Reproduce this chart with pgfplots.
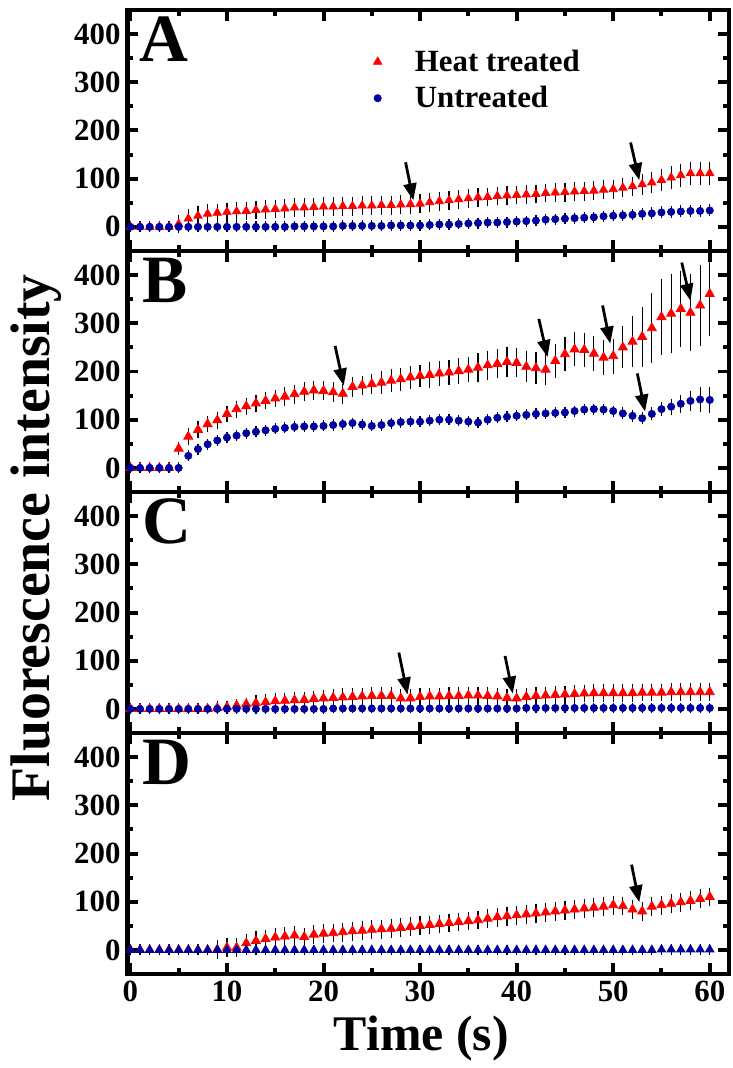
\documentclass[border=0pt]{standalone}
\usepackage{fontspec}
\setmainfont{Liberation Serif}
\usepackage{pgfplots}
\pgfplotsset{compat=1.18}
\usepackage{pgfplotstable}
\usetikzlibrary{arrows.meta}
\definecolor{navyb}{RGB}{0,0,160}

% t = time (s), h = heat treated, he = its error, u = untreated, ue = its error
\pgfplotstableread{
t h he u ue
0 0 4 0 4
1 0 4 0 4
2 0 4 0 4
3 0 4 0 4
4 0 4 0 4
5 6 12 0 4
6 17 12 0 4
7 23 12 0 4
8 27 12 0 4
9 29 12 0 4
10 31 12 0 4
11 32 12 0 4
12 33 12 0 4
13 35 12 0 4
14 36 12 0 4
15 37 12 0 4
16 38 12 0 4
17 40 12 1 4
18 40 12 1 4
19 41 12 1 4
20 42 12 1 4
21 42 12 1 4
22 43 12 2 4
23 43 12 2 4
24 44 12 2 4
25 44 12 2 4
26 45 12 2 4
27 45 12 3 4
28 46 12 3 4
29 47 12 3 4
30 48 12 3 4
31 51 12 4 4
32 53 12 5 4
33 55 12 5 4
34 57 12 6 4
35 59 12 7 4
36 61 12 8 4
37 62 12 9 4
38 64 12 9 4
39 65 12 10 4
40 66 12 11 4
41 67 12 12 4
42 68 12 13 4
43 70 12 15 4
44 71 12 16 4
45 72 12 17 4
46 73 12 18 4
47 74 12 19 4
48 75 12 20 4
49 77 12 22 4
50 78 12 23 4
51 81 12 24 4
52 84 13 25 4
53 88 14 27 5
54 92 15 28 5
55 97 16 30 5
56 102 17 31 5
57 107 17 32 5
58 111 17 33 5
59 111 17 33 5
60 111 17 34 5
}\dataA

\pgfplotstableread{
t h he u ue
0 0 3 0 4
1 0 3 0 4
2 0 3 0 4
3 0 3 0 4
4 0 3 0 4
5 40 6 0 4
6 65 10 25 4
7 79 10 39 4
8 91 10 49 4
9 99 10 57 4
10 112 10 63 4
11 122 10 67 4
12 128 10 72 4
13 134 10 75 4
14 139 10 78 4
15 144 10 81 4
16 148 12 83 4
17 153 12 85 4
18 158 12 86 4
19 161 12 86 4
20 160 12 87 4
21 157 13 89 4
22 154 13 91 4
23 168 13 93 4
24 171 13 90 4
25 174 13 87 4
26 177 16 89 4
27 181 16 93 4
28 184 16 95 4
29 188 16 96 4
30 191 16 96 4
31 193 19 98 4
32 196 19 100 4
33 198 19 100 4
34 201 19 98 4
35 204 19 96 4
36 208 23 94 4
37 213 23 100 4
38 216 23 104 4
39 220 23 106 4
40 218 23 108 4
41 210 25 110 4
42 207 25 112 4
43 204 25 113 4
44 222 28 114 4
45 236 28 115 4
46 246 28 118 4
47 245 28 121 4
48 237 29 122 4
49 229 29 121 4
50 232 29 118 4
51 250 36 113 5
52 262 45 108 5
53 272 55 103 5
54 290 65 112 6
55 313 72 122 7
56 320 75 127 9
57 330 72 133 11
58 322 72 139 14
59 337 76 142 18
60 361 80 141 20
}\dataB

\pgfplotstableread{
t h he u ue
0 0 4 0 3
1 0 4 0 3
2 0 4 0 3
3 0 4 0 3
4 0 4 0 3
5 0 4 0 3
6 0 4 0 3
7 0 4 0 3
8 0 4 0 3
9 2 6 0 3
10 4 6 0 3
11 7 6 0 3
12 10 6 0 3
13 12 9 0 3
14 14 9 0 3
15 16 9 0 3
16 17 9 0 3
17 18 9 0 3
18 19 9 0 3
19 21 9 0 3
20 22 9 0 3
21 23 11 1 3
22 24 11 1 3
23 25 11 1 3
24 26 11 1 3
25 27 11 1 3
26 27 11 1 3
27 27 11 1 3
28 22 11 1 3
29 22 11 1 3
30 25 11 1 3
31 26 11 1 3
32 26 11 1 3
33 27 11 1 3
34 27 11 1 3
35 28 11 1 3
36 28 11 1 3
37 27 11 1 3
38 26 11 1 3
39 23 11 1 3
40 22 11 1 3
41 25 11 2 3
42 27 11 2 3
43 28 11 2 3
44 29 11 2 3
45 30 11 2 3
46 31 11 2 3
47 32 11 2 3
48 33 11 2 3
49 33 11 2 3
50 33 11 2 3
51 33 11 2 3
52 33 11 2 3
53 34 11 2 3
54 34 11 2 3
55 34 11 2 3
56 35 11 2 3
57 35 11 2 3
58 35 11 2 3
59 35 11 2 3
60 35 11 2 3
}\dataC

\pgfplotstableread{
t h he u ue
0 0 4 0 3
1 0 4 0 3
2 0 4 0 3
3 0 4 0 3
4 0 4 0 3
5 0 4 0 3
6 0 4 0 3
7 0 4 0 3
8 0 4 0 3
9 1 12 0 3
10 5 12 0 3
11 5 12 0 3
12 14 12 0 3
13 19 12 0 3
14 23 12 0 3
15 26 12 0 3
16 28 12 0 3
17 30 12 0 3
18 27 12 0 3
19 32 12 0 3
20 34 12 0 3
21 35 12 0 3
22 37 12 0 3
23 39 12 0 3
24 40 12 0 3
25 42 12 0 3
26 43 12 0 3
27 44 12 0 3
28 46 12 0 3
29 48 12 0 3
30 50 12 0 3
31 52 12 0 3
32 54 12 0 3
33 56 12 0 3
34 58 12 0 3
35 60 12 0 3
36 62 12 0 3
37 65 12 0 3
38 68 12 0 3
39 70 12 0 3
40 72 12 0 3
41 74 12 0 3
42 76 12 0 3
43 78 12 0 3
44 80 12 0 3
45 82 12 0 3
46 84 12 0 3
47 86 12 0 3
48 88 12 0 3
49 90 12 0 3
50 93 12 0 3
51 91 12 0 3
52 84 12 0 3
53 80 12 0 3
54 90 12 0 3
55 93 12 1 3
56 96 12 1 3
57 99 12 1 3
58 102 12 1 3
59 106 12 1 3
60 110 12 1 3
}\dataD

\tikzset{
  arr/.style={-{Triangle[length=8.5pt,width=6.5pt]}, line width=1.4pt, black},
  letter/.style={anchor=base west, inner sep=0pt,
    font=\fontsize{34}{34}\selectfont\bfseries},
}
\pgfplotsset{
  panel/.style={
    set layers,
    width=302pt, height=121pt, scale only axis,
    xmin=-0.3, xmax=62, ymin=-50, ymax=450,
    xtick={0,10,...,60}, minor xtick={5,15,...,55},
    ytick={0,100,...,400}, minor ytick={50,150,...,350},
    tick align=inside,
    axis line style={line width=2.2pt},
    every tick/.style={black, line width=2pt},
    major tick length=5.5pt, minor tick length=3pt,
    ticklabel style={font=\fontsize{15.5}{16}\selectfont\bfseries},
    /pgf/number format/assume math mode=true,
  },
  errs/.style={forget plot, on layer=axis background, draw=none, mark=none,
    error bars/.cd, y dir=both, y explicit,
    error bar style={draw=black, line width=0.6pt},
    error mark options={draw=black, mark size=1.8pt, line width=0.6pt}},
  legimg/.style={legend image code/.code={\path (0cm,0cm) (1.16cm,0cm);
      \draw[##1] plot coordinates {(0.58cm,0cm)};}},
  heat/.style={only marks, mark=triangle*, mark size=2.6pt, color=red, legimg},
  untr/.style={only marks, mark=*, mark size=1.8pt, color=navyb, legimg},
}

\begin{document}
\begin{tikzpicture}
  \path (-64pt,-45pt) rectangle (303.5pt,489pt);

  % panel A
  \begin{axis}[panel, at={(0,363pt)}, xticklabels={},
    legend style={draw=none, fill=none, at={(rel axis cs:0.35,0.87)},
      anchor=north west, font=\fontsize{15.5}{17}\selectfont\bfseries,
      row sep=2pt},
    legend cell align=left]
    \addplot[errs] table[x=t, y=h, y error=he] {\dataA};
    \addplot[heat, mark size=2.4pt] table[x=t, y=h] {\dataA};
    \addlegendentry{Heat treated}
    \addplot[errs] table[x=t, y=u, y error=ue] {\dataA};
    \addplot[untr] table[x=t, y=u] {\dataA};
    \addlegendentry{Untreated}
    \draw[arr] (axis cs:28.5,134) -- (axis cs:29.3,55);
    \draw[arr] (axis cs:51.8,175) -- (axis cs:52.7,97);
    \node[letter] at (rel axis cs:0.02,0.785) {A};
  \end{axis}

  % panel B
  \begin{axis}[panel, at={(0,242pt)}, xticklabels={}]
    \addplot[errs] table[x=t, y=h, y error=he] {\dataB};
    \addplot[heat] table[x=t, y=h] {\dataB};
    \addplot[errs] table[x=t, y=u, y error=ue] {\dataB};
    \addplot[untr] table[x=t, y=u] {\dataB};
    \draw[arr] (axis cs:21.2,253) -- (axis cs:22.1,171);
    \draw[arr] (axis cs:42.3,309) -- (axis cs:43.2,230);
    \draw[arr] (axis cs:48.9,337) -- (axis cs:49.7,258);
    \draw[arr] (axis cs:57.1,426) -- (axis cs:58.0,347);
    \draw[arr] (axis cs:52.5,196) -- (axis cs:53.3,117);
    \node[letter] at (rel axis cs:0.025,0.785) {B};
  \end{axis}

  % panel C
  \begin{axis}[panel, at={(0,121pt)}, xticklabels={}]
    \addplot[errs] table[x=t, y=h, y error=he] {\dataC};
    \addplot[heat] table[x=t, y=h] {\dataC};
    \addplot[errs] table[x=t, y=u, y error=ue] {\dataC};
    \addplot[untr] table[x=t, y=u] {\dataC};
    \draw[arr] (axis cs:27.8,117) -- (axis cs:28.7,30);
    \draw[arr] (axis cs:38.8,110) -- (axis cs:39.6,32);
    \node[letter] at (rel axis cs:0.025,0.785) {C};
  \end{axis}

  % panel D
  \begin{axis}[panel, at={(0,0)}]
    \addplot[errs] table[x=t, y=h, y error=he] {\dataD};
    \addplot[heat] table[x=t, y=h] {\dataD};
    \addplot[errs] table[x=t, y=u, y error=ue] {\dataD};
    \addplot[untr, mark=triangle*, mark size=2.4pt] table[x=t, y=u] {\dataD};
    \draw[arr] (axis cs:51.9,177) -- (axis cs:52.7,99);
    \node[letter] at (rel axis cs:0.025,0.785) {D};
  \end{axis}

  \node[rotate=90, font=\fontsize{28}{28}\selectfont\bfseries]
    at (-46pt,219pt) {Fluorescence intensity};
  \node[anchor=base, font=\fontsize{25}{25}\selectfont\bfseries]
    at (147.5pt,-38.5pt) {Time (s)};
\end{tikzpicture}
\end{document}
